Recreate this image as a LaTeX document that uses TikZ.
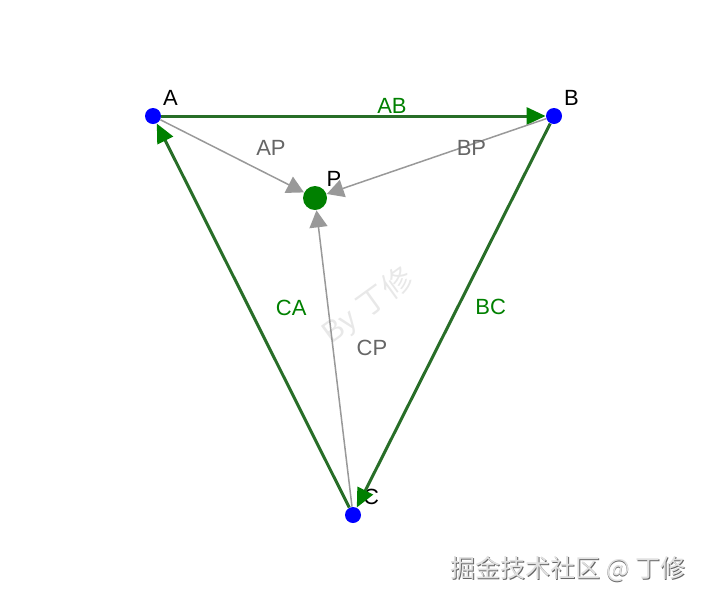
\documentclass[tikz,border=0pt]{standalone}
\usepackage{fontspec}
\setmainfont{Liberation Sans}
\newfontfamily\cjk{Noto Sans CJK SC}
\usetikzlibrary{arrows.meta}
\definecolor{edgegreen}{RGB}{40,110,40}
\definecolor{tipgreen}{RGB}{0,128,0}
\definecolor{edgegray}{RGB}{153,153,153}
\definecolor{lblgray}{RGB}{102,102,102}

\begin{document}
\begin{tikzpicture}[
    x=0.5pt, y=-0.5pt,
    every node/.style={font=\fontsize{11}{13}\selectfont},
    vertex/.style={circle, fill=blue, inner sep=0pt, minimum size=8pt},
    hub/.style={circle, fill=tipgreen, inner sep=0pt, minimum size=12pt},
    nlabel/.style={black, inner sep=0.5pt},
    side/.style={draw=edgegreen, line width=1.5pt, -{Triangle[length=9.5pt,width=8.5pt,color=tipgreen]}},
    spoke/.style={draw=edgegray, line width=0.75pt, -{Triangle[length=8.5pt,width=9pt]}},
    sidelbl/.style={text=tipgreen},
    spokelbl/.style={text=lblgray}
]
\useasboundingbox (0,0) rectangle (706,602);

% 水印
\node[text=gray!18, rotate=36, font=\fontsize{15}{17}\selectfont] (wm) at (368,306) {By \cjk 丁修};

% 三角形顶点
\node[vertex, label={[nlabel, label distance=2pt]above right:A}] (A) at (153,116) {};
\node[vertex, label={[nlabel, label distance=2pt]above right:B}] (B) at (554,116) {};
\node[vertex, label={[nlabel, label distance=2pt]above right:C}] (C) at (353,515) {};

% 中心点
\node[hub, label={[nlabel, label distance=1pt]above right:P}] (P) at (315,198) {};

% 三条边
\draw[side] (A) -- (B) node[sidelbl, pos=0.6, yshift=5pt] {AB};
\draw[side] (B) -- (C) node[sidelbl, pos=0.478, xshift=16.5pt] {BC};
\draw[side] (C) -- (A) node[sidelbl, pos=0.52, xshift=21pt] {CA};

% 指向 P 的线
\draw[spoke] (A) -- (P) node[spokelbl, pos=0.77, yshift=14pt] {AP};
\draw[spoke] (B) -- (P) node[spokelbl, pos=0.34, yshift=-1.75pt] {BP};
\draw[spoke] (C) -- (P) node[spokelbl, pos=0.535, xshift=19.5pt] {CP};

% 右下角文字
\node[text=black!60, font=\cjk\fontsize{12.5}{14}\selectfont] (siteshadow) at (568.8,569.8) {掘金技术社区 @ 丁修};
\node[text=black!12, font=\cjk\fontsize{12.5}{14}\selectfont] (site) at (568,569) {掘金技术社区 @ 丁修};

\end{tikzpicture}
\end{document}
